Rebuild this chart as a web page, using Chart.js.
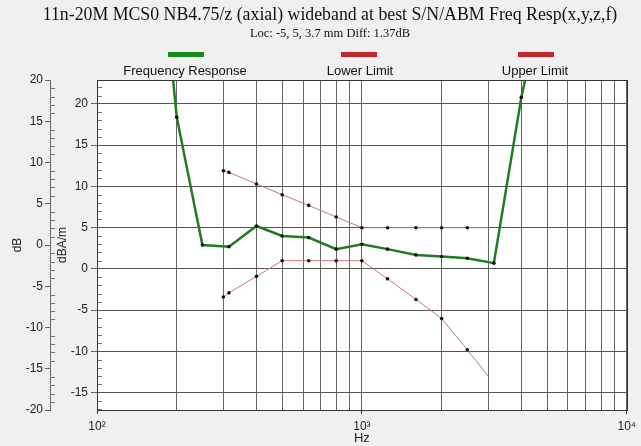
<!DOCTYPE html>
<html>
<head>
<meta charset="utf-8">
<script src="https://cdn.jsdelivr.net/npm/chart.js@4.4.0/dist/chart.umd.min.js"></script>
<style>
  html, body { margin: 0; padding: 0; background: #f0f0f0; }
  #wrap { position: relative; width: 641px; height: 446px; overflow: hidden; }
  #chart { position: absolute; left: 0; top: 0; }
  .txt { position: absolute; white-space: nowrap; color: #111; transform: translateX(-50%); }
  .title { font-family: "Liberation Serif", serif; font-size: 17.8px; top: 4px; }
  .sub { font-family: "Liberation Serif", serif; font-size: 12.5px; top: 26px; }
  .leg { font-family: "Liberation Sans", Arial, sans-serif; font-size: 13px; top: 63px; color: #111; }
  .sw { position: absolute; height: 5px; width: 36px; top: 52px; transform: translateX(-50%); }
</style>
</head>
<body>
<div id="wrap">
  <canvas id="chart" width="641" height="446"></canvas>
  <div class="txt title" style="left:330px">11n-20M MCS0 NB4.75/z (axial) wideband at best S/N/ABM Freq Resp(x,y,z,f)</div>
  <div class="txt sub" style="left:330px">Loc: -5, 5, 3.7 mm Diff: 1.37dB</div>
  <div class="sw" style="left:186px;background:#178a17"></div>
  <div class="txt leg" style="left:185px">Frequency Response</div>
  <div class="sw" style="left:359px;background:#c0282d"></div>
  <div class="txt leg" style="left:360px">Lower Limit</div>
  <div class="sw" style="left:536px;background:#c0282d"></div>
  <div class="txt leg" style="left:535px">Upper Limit</div>
</div>
<script>
// response and limit curves (dBA/m)
const respFreq = [160, 200, 250, 315, 400, 500, 630, 800, 1000, 1250, 1600, 2000, 2500, 3150, 4000, 5000];
const respVals = [50, 18.4, 2.9, 2.7, 5.2, 4.0, 3.8, 2.4, 3.0, 2.4, 1.7, 1.5, 1.3, 0.7, 20.8, 35];

const limFreq = [300, 315, 400, 500, 630, 800, 1000, 1250, 1600, 2000, 2500, 3000];
const lowerVals = [-3.4, -2.9, -0.9, 1.0, 1.0, 1.0, 1.0, -1.2, -3.7, -6.0, -9.8, -13.0];
const upperVals = [11.9, 11.7, 10.3, 9.0, 7.7, 6.3, 5.0, 5.0, 5.0, 5.0, 5.0, 5.0];

const xTicks = [100, 200, 300, 400, 500, 600, 700, 800, 900,
                1000, 2000, 3000, 4000, 5000, 6000, 7000, 8000, 9000, 10000];
const xLabels = { 100: "10\u00b2", 1000: "10\u00b3", 10000: "10\u2074" };
const yTicks = [-15, -10, -5, 0, 5, 10, 15, 20];
const y2Ticks = [-20, -15, -10, -5, 0, 5, 10, 15, 20];

const pts = (xs, ys) => xs.map((x, i) => ({ x: x, y: ys[i] }));
const lastHidden = (n, r) => Array.from({ length: n }, (_, i) => (i === n - 1 ? 0 : r));

const plotFrame = {
  id: "plotFrame",
  beforeDraw(chart) {
    const { ctx, chartArea: a } = chart;
    ctx.save();
    ctx.fillStyle = "#ffffff";
    ctx.fillRect(a.left, a.top, a.right - a.left, a.bottom - a.top);
    ctx.restore();
  },
  afterDraw(chart) {
    const { ctx, chartArea: a, scales } = chart;
    ctx.save();
    ctx.strokeStyle = "#777";
    ctx.lineWidth = 1;
    ctx.beginPath();
    // minor ticks of the dBA/m axis, inside the plot
    for (let v = -17; v <= 22; v++) {
      if (v % 5 === 0) continue;
      const y = Math.round(scales.y.getPixelForValue(v)) + 0.5;
      ctx.moveTo(a.left, y); ctx.lineTo(a.left + 5, y);
    }
    // minor ticks of the dB axis
    const x2 = scales.y2.right;
    for (let v = -19; v <= 19; v++) {
      if (v % 5 === 0) continue;
      const y = Math.round(scales.y2.getPixelForValue(v)) + 0.5;
      ctx.moveTo(x2, y); ctx.lineTo(x2 + 5, y);
    }
    ctx.stroke();
    ctx.strokeStyle = "#333";
    ctx.strokeRect(Math.round(a.left) + 0.5, Math.round(a.top) + 0.5,
                   Math.round(a.right - a.left), Math.round(a.bottom - a.top));
    ctx.restore();
  }
};

const ctx = document.getElementById("chart").getContext("2d");
const chart = new Chart(ctx, {
  type: "line",
  data: {
    datasets: [
      {
        label: "Lower Limit",
        data: pts(limFreq, lowerVals),
        borderColor: "#c87672",
        borderWidth: 1,
        pointRadius: lastHidden(limFreq.length, 1.8),
        pointBackgroundColor: "#111",
        pointBorderWidth: 0,
        tension: 0
      },
      {
        label: "Upper Limit",
        data: pts(limFreq, upperVals),
        borderColor: "#c87672",
        borderWidth: 1,
        pointRadius: lastHidden(limFreq.length, 1.8),
        pointBackgroundColor: "#111",
        pointBorderWidth: 0,
        tension: 0
      },
      {
        label: "Frequency Response",
        data: pts(respFreq, respVals),
        borderColor: "#1f7d1f",
        borderWidth: 2.5,
        pointRadius: 1.8,
        pointBackgroundColor: "#111",
        pointBorderWidth: 0,
        tension: 0
      }
    ]
  },
  options: {
    responsive: false,
    animation: false,
    layout: { padding: { top: 80, right: 14, bottom: 0, left: 0 } },
    plugins: { legend: { display: false }, tooltip: { enabled: false } },
    scales: {
      x: {
        type: "logarithmic",
        min: 100,
        max: 10000,
        afterBuildTicks: s => { s.ticks = xTicks.map(v => ({ value: v })); },
        afterFit: s => { s.height = 36; },
        ticks: {
          autoSkip: false,
          maxRotation: 0,
          padding: 5,
          color: "#222",
          font: { family: "Liberation Sans", size: 12 },
          callback: v => xLabels[v] || ""
        },
        grid: {
          color: "#666",
          tickLength: 4,
          tickColor: c => (xLabels[c.tick && c.tick.value] ? "#333" : "rgba(0,0,0,0)")
        },
        border: { color: "#333" },
        title: {
          display: true, text: "Hz", color: "#222", padding: 0,
          font: { family: "Liberation Sans", size: 13 }
        }
      },
      y: {
        type: "linear",
        position: "left",
        weight: 0,
        min: -17.1,
        max: 22.9,
        afterBuildTicks: s => { s.ticks = yTicks.map(v => ({ value: v })); },
        afterFit: s => { s.width = 47; },
        ticks: { padding: 3, color: "#222", font: { family: "Liberation Sans", size: 12 } },
        grid: { color: "#555", tickLength: 6, tickColor: "#666" },
        border: { color: "#333" },
        title: {
          display: true, text: "dBA/m", color: "#222", padding: { top: 5 },
          font: { family: "Liberation Sans", size: 12 }
        }
      },
      y2: {
        type: "linear",
        position: "left",
        weight: 1,
        min: -20,
        max: 20,
        afterBuildTicks: s => { s.ticks = y2Ticks.map(v => ({ value: v })); },
        afterFit: s => { s.width = 50; },
        ticks: { padding: 2, color: "#222", font: { family: "Liberation Sans", size: 12 } },
        grid: { drawOnChartArea: false, tickLength: 5, tickColor: "#666" },
        border: { color: "#666" },
        title: {
          display: true, text: "dB", color: "#222", padding: { top: 10 },
          font: { family: "Liberation Sans", size: 12 }
        }
      }
    }
  },
  plugins: [plotFrame]
});
</script>
</body>
</html>
